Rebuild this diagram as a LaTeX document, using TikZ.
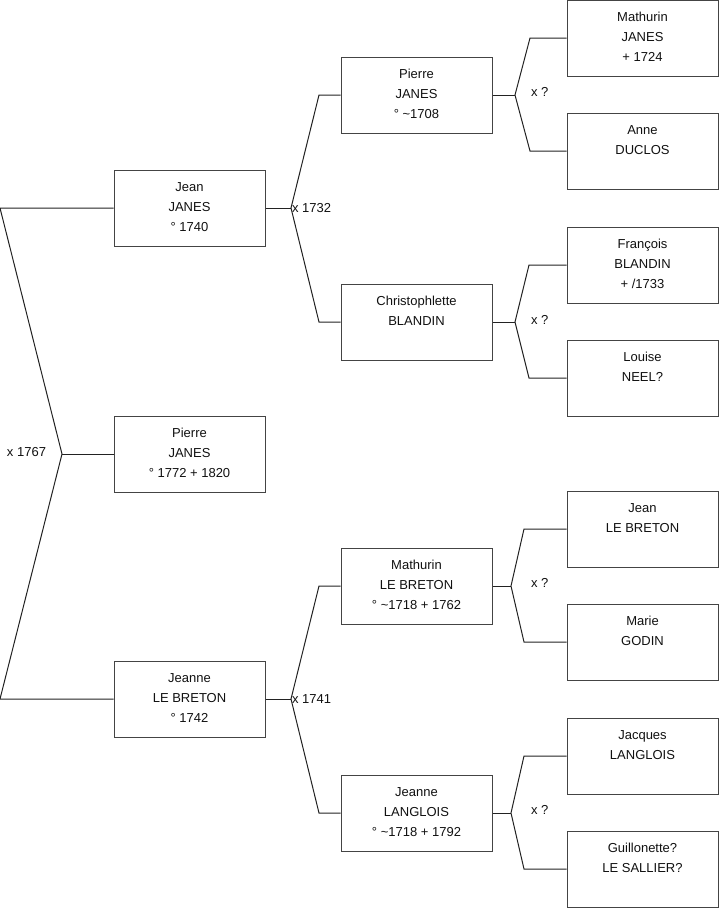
\documentclass[tikz,border=0pt]{standalone}
\usepackage{fontspec}
\setmainfont{Liberation Sans}
\usepackage{xcolor}
\usepackage{tikz}
\definecolor{ink}{HTML}{111111}
\definecolor{boxline}{HTML}{444444}
\definecolor{wire}{HTML}{222222}
\newcommand{\rowstrut}{\rule[-4.75pt]{0pt}{15pt}}
\newcommand{\who}[3]{#1\rowstrut\\#2\rowstrut\\#3\rowstrut}
\tikzset{
  person/.style = {draw=boxline, fill=white, line width=0.75pt, minimum width=113.25pt, minimum height=57pt,
                   inner sep=0pt, align=center, font=\fontsize{9.75}{15}\selectfont, text=ink},
  link/.style   = {draw=wire, line width=0.75pt},
  wed/.style    = {font=\fontsize{9.75}{12}\selectfont, text=ink, anchor=west, inner sep=0pt, outer sep=0pt},
}

\begin{document}
\begin{tikzpicture}[x=0.75pt,y=-0.75pt]
\path[use as bounding box] (0,0) rectangle (719,908);

% ---- the child and the parents ------------------------------------------
\node[person] (pierre) at (189.5,454) {\who{Pierre}{JANES}{° 1772 + 1820}};
\node[person] (jean)   at (189.5,208) {\who{Jean}{JANES}{° 1740}};
\node[person] (jeanne) at (189.5,699) {\who{Jeanne}{LE BRETON}{° 1742}};

% ---- grandparents ---------------------------------------------------------
\node[person] (pjanes)   at (416.5,95)  {\who{Pierre}{JANES}{° \textasciitilde1708}};
\node[person] (cblandin) at (416.5,322) {\who{Christophlette}{BLANDIN}{}};
\node[person] (mbreton)  at (416.5,586) {\who{Mathurin}{LE BRETON}{° \textasciitilde1718 + 1762}};
\node[person] (jlanglois) at (416.5,813) {\who{Jeanne}{LANGLOIS}{° \textasciitilde1718 + 1792}};

% ---- great-grandparents ---------------------------------------------------
\node[person] (mjanes)    at (642.5,38)  {\who{Mathurin}{JANES}{+ 1724}};
\node[person] (aduclos)   at (642.5,151) {\who{Anne}{DUCLOS}{}};
\node[person] (fblandin)  at (642.5,265) {\who{François}{BLANDIN}{+ /1733}};
\node[person] (lneel)     at (642.5,378) {\who{Louise}{NEEL?}{}};
\node[person] (jbreton)   at (642.5,529) {\who{Jean}{LE BRETON}{}};
\node[person] (mgodin)    at (642.5,642) {\who{Marie}{GODIN}{}};
\node[person] (jlangl)    at (642.5,756) {\who{Jacques}{LANGLOIS}{}};
\node[person] (gsallier)  at (642.5,869) {\who{Guillonette?}{LE SALLIER?}{}};

% ---- marriage of the parents ----------------------------------------------
\coordinate (r0) at (0,208);
\coordinate (r1) at (0,699);
\coordinate (m0) at (62,454);
\draw[link] (jean.west) -- (r0) -- (m0) -- (r1) -- (jeanne.west);
\draw[link] (m0) -- (pierre.west);
\node[wed] (w0) at (7,452) {x 1767};

% ---- marriages of the grandparents ----------------------------------------
\coordinate (m1)  at (291,208);
\coordinate (m1a) at (319,95);
\coordinate (m1b) at (319,322);
\draw[link] (jean.east) -- (m1);
\draw[link] (pjanes.west) -- (m1a) -- (m1) -- (m1b) -- (cblandin.west);
\node[wed] (w1) at (292,208) {x 1732};

\coordinate (m2)  at (291,699);
\coordinate (m2a) at (319,586);
\coordinate (m2b) at (319,813);
\draw[link] (jeanne.east) -- (m2);
\draw[link] (mbreton.west) -- (m2a) -- (m2) -- (m2b) -- (jlanglois.west);
\node[wed] (w2) at (292,699) {x 1741};

% ---- marriages of the great-grandparents ----------------------------------
\coordinate (m3)  at (515,95);
\coordinate (m3a) at (530,38);
\coordinate (m3b) at (530,151);
\draw[link] (pjanes.east) -- (m3);
\draw[link] (mjanes.west) -- (m3a) -- (m3) -- (m3b) -- (aduclos.west);
\node[wed] (w3) at (531,92) {x ?};

\coordinate (m4)  at (515,322);
\coordinate (m4a) at (529,265);
\coordinate (m4b) at (529,378);
\draw[link] (cblandin.east) -- (m4);
\draw[link] (fblandin.west) -- (m4a) -- (m4) -- (m4b) -- (lneel.west);
\node[wed] (w4) at (531,320) {x ?};

\coordinate (m5)  at (511,586);
\coordinate (m5a) at (524,529);
\coordinate (m5b) at (524,642);
\draw[link] (mbreton.east) -- (m5);
\draw[link] (jbreton.west) -- (m5a) -- (m5) -- (m5b) -- (mgodin.west);
\node[wed] (w5) at (531,583) {x ?};

\coordinate (m6)  at (511,813);
\coordinate (m6a) at (524,756);
\coordinate (m6b) at (524,869);
\draw[link] (jlanglois.east) -- (m6);
\draw[link] (jlangl.west) -- (m6a) -- (m6) -- (m6b) -- (gsallier.west);
\node[wed] (w6) at (531,810) {x ?};

\end{tikzpicture}
\end{document}
